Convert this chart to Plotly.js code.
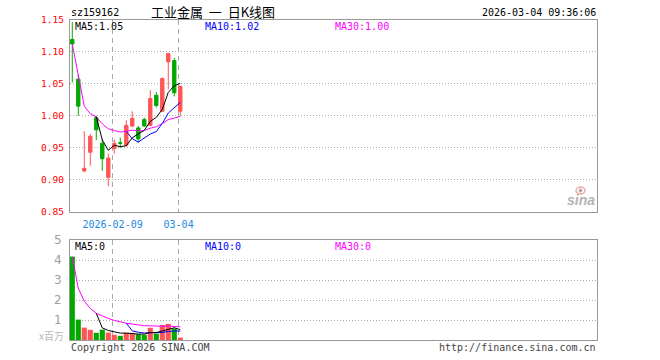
<!DOCTYPE html>
<html>
<head>
<meta charset="utf-8">
<script src="https://cdn.plot.ly/plotly-3.0.1.min.js"></script>
<style>html,body{margin:0;padding:0;background:#fff;}#chart{width:660px;height:360px;}</style>
</head>
<body>
<div id="chart"></div>
<script>
// ---- data ----
const dates = ["2026-01-29","2026-01-30","2026-02-02","2026-02-03","2026-02-04","2026-02-05","2026-02-06","2026-02-09","2026-02-10","2026-02-11","2026-02-12","2026-02-13","2026-02-24","2026-02-25","2026-02-26","2026-02-27","2026-03-02","2026-03-03","2026-03-04"];
const openP  = [1.119, 1.057, 0.914, 0.943, 0.997, 0.957, 0.904, 0.949, 0.958, 0.954, 0.984, 0.981, 0.994, 0.985, 1.032, 1.007, 1.084, 1.086, 1.007];
const highP  = [1.146, 1.064, 0.976, 0.972, 1.000, 0.964, 0.941, 0.963, 0.966, 0.993, 1.007, 0.984, 0.997, 1.040, 1.037, 1.060, 1.098, 1.090, 1.046];
const lowP   = [1.052, 1.000, 0.912, 0.922, 0.962, 0.914, 0.890, 0.941, 0.950, 0.952, 0.982, 0.958, 0.983, 0.984, 1.013, 1.006, 1.041, 1.030, 1.000];
const closeP = [1.112, 1.015, 0.918, 0.968, 0.978, 0.933, 0.934, 0.957, 0.957, 0.985, 0.996, 0.964, 0.984, 1.027, 1.016, 1.058, 1.097, 1.036, 1.046];
const volume = [4.17, 1.02, 0.62, 0.51, 0.36, 0.52, 0.37, 0.26, 0.21, 0.36, 0.36, 0.29, 0.26, 0.61, 0.32, 0.75, 0.81, 0.58, 0.12];
const dateTickDates = ["2026-02-09", "2026-03-04"];
const dateTickLabels = ["2026-02-09", "03-04"];
const priceTicks = [0.85, 0.90, 0.95, 1.00, 1.05, 1.10, 1.15];
const priceTickLabels = ["0.85", "0.90", "0.95", "1.00", "1.05", "1.10", "1.15"];
const volTicks = [1, 2, 3, 4, 5];
const volTickLabels = ["1", "2", "3", "4", "5"];
const volMaLabels = ["MA5:0", "MA10:0", "MA30:0"];

// ---- helpers ----
const idx = dates.map((d, i) => i);
function ma(arr, n, expanding) {
  return arr.map((v, i) => {
    if (i < n - 1 && !expanding) return null;
    const s = Math.max(0, i - n + 1);
    const sl = arr.slice(s, i + 1);
    return sl.reduce((a, b) => a + b, 0) / sl.length;
  });
}
const RED = '#ff5555', GREEN = '#00a800';
const MONO = 'DejaVu Sans Mono';
const ma5 = ma(closeP, 5), ma10 = ma(closeP, 10), ma30 = ma(closeP, 30, true);
const vma5 = ma(volume, 5), vma10 = ma(volume, 10), vma30 = ma(volume, 30, true);
const volColors = closeP.map((c, i) => c >= openP[i] ? RED : GREEN);
const last = a => a[a.length - 1];
const tickIdx = dateTickDates.map(d => dates.indexOf(d) - 0.28);

const W = 660, H = 360;
const px = x => x / W, py = y => 1 - y / H;

const traces = [
  {type: 'candlestick', x: idx, open: openP, high: highP, low: lowP, close: closeP,
   xaxis: 'x', yaxis: 'y', whiskerwidth: 0,
   increasing: {line: {color: RED, width: 1}, fillcolor: RED},
   decreasing: {line: {color: GREEN, width: 1}, fillcolor: GREEN},
   hoverinfo: 'skip', showlegend: false},
  {type: 'scatter', mode: 'lines', x: idx, y: ma30, line: {color: '#ff00ff', width: 1}, xaxis: 'x', yaxis: 'y', showlegend: false, hoverinfo: 'skip'},
  {type: 'scatter', mode: 'lines', x: idx, y: ma10, line: {color: '#0000ff', width: 1}, xaxis: 'x', yaxis: 'y', showlegend: false, hoverinfo: 'skip'},
  {type: 'scatter', mode: 'lines', x: idx, y: ma5, line: {color: '#000000', width: 1}, xaxis: 'x', yaxis: 'y', showlegend: false, hoverinfo: 'skip'},
  {type: 'bar', x: idx, y: volume, marker: {color: volColors, line: {width: 0}}, xaxis: 'x2', yaxis: 'y2', showlegend: false, hoverinfo: 'skip'},
  {type: 'scatter', mode: 'lines', x: idx, y: vma30, line: {color: '#ff00ff', width: 1}, xaxis: 'x2', yaxis: 'y2', showlegend: false, hoverinfo: 'skip'},
  {type: 'scatter', mode: 'lines', x: idx, y: vma10, line: {color: '#0000ff', width: 1}, xaxis: 'x2', yaxis: 'y2', showlegend: false, hoverinfo: 'skip'},
  {type: 'scatter', mode: 'lines', x: idx, y: vma5, line: {color: '#000000', width: 1}, xaxis: 'x2', yaxis: 'y2', showlegend: false, hoverinfo: 'skip'}
];

const xRange = [-0.38, 87.45];
const gridCol = '#aaaaaa', frameCol = '#999999';

const ann = (text, x, y, xanchor, color, size, family, extra) => Object.assign({
  text: text, x: px(x), y: py(y), xref: 'paper', yref: 'paper', xanchor: xanchor, yanchor: 'middle',
  showarrow: false, font: {family: family || MONO, size: size || 10, color: color || '#000'}, borderpad: 0
}, extra || {});

// price tick labels (red), placed on the price axis scale
const priceLabelAnns = priceTicks.map((v, i) => ({
  text: priceTickLabels[i], x: px(65), xref: 'paper', y: v, yref: 'y', xanchor: 'right', yanchor: 'middle',
  showarrow: false, borderpad: 0, font: {family: MONO, size: 9.5, color: '#ff0000'}
}));

const layout = {
  width: W, height: H, margin: {l: 0, r: 0, t: 0, b: 0},
  paper_bgcolor: '#fff', plot_bgcolor: '#fff', showlegend: false, bargap: 0.14, boxgap: 0.2,
  xaxis: {domain: [px(70), px(597)], range: xRange, anchor: 'y', rangeslider: {visible: false},
          tickmode: 'array', tickvals: tickIdx, ticktext: dateTickLabels, ticks: '', ticklabelstandoff: 3,
          tickfont: {family: MONO, size: 10, color: '#1e88e5'},
          showgrid: true, gridcolor: gridCol, gridwidth: 1, griddash: '5px,4px',
          showline: true, linecolor: frameCol, linewidth: 1, mirror: true, zeroline: false, fixedrange: true},
  yaxis: {domain: [py(212), py(19.5)], range: [0.8499, 1.1501], anchor: 'x',
          tickmode: 'array', tickvals: priceTicks, showticklabels: false, ticks: '',
          showgrid: true, gridcolor: gridCol, gridwidth: 1, griddash: '1px,2px',
          showline: true, linecolor: frameCol, linewidth: 1, mirror: true, zeroline: false, fixedrange: true},
  xaxis2: {domain: [px(70), px(597)], range: xRange, anchor: 'y2',
           tickmode: 'array', tickvals: tickIdx, showticklabels: false, ticks: '',
           showgrid: true, gridcolor: gridCol, gridwidth: 1, griddash: '5px,4px',
           showline: true, linecolor: frameCol, linewidth: 1, mirror: true, zeroline: false, fixedrange: true},
  yaxis2: {domain: [py(340), py(240)], range: [0, 5], anchor: 'x2',
           tickmode: 'array', tickvals: volTicks, ticktext: volTickLabels, ticks: '', ticklabelstandoff: 5,
           tickfont: {family: 'DejaVu Sans', size: 12, color: '#a0a0a0'},
           showgrid: true, gridcolor: gridCol, gridwidth: 1, griddash: '1px,2px',
           showline: true, linecolor: frameCol, linewidth: 1, mirror: true, zeroline: false, fixedrange: true},
  annotations: priceLabelAnns.concat([
    ann('sz159162', 70, 12.5, 'left', '#000', 10),
    ann('工业金属\u00a0\u00a0一\u00a0\u00a0日K线图', 213, 12, 'center', '#000', 13, 'Noto Sans CJK SC'),
    ann('2026-03-04 09:36:06', 597, 12.5, 'right', '#000', 10),
    ann('MA5:' + last(ma5).toFixed(2), 74, 27, 'left', '#000', 10),
    ann('MA10:' + last(ma10).toFixed(2), 204, 27, 'left', '#0000ff', 10),
    ann('MA30:' + last(ma30).toFixed(2), 334, 27, 'left', '#ff00ff', 10),
    ann(volMaLabels[0], 74, 246.5, 'left', '#000', 10),
    ann(volMaLabels[1], 204, 246.5, 'left', '#0000ff', 10),
    ann(volMaLabels[2], 334, 246.5, 'left', '#ff00ff', 10),
    ann('x百万', 65, 335, 'right', '#b8b8b8', 10, 'Noto Sans CJK SC'),
    ann('Copyright 2026 SINA.COM', 70, 347, 'left', '#444', 10),
    ann('http://finance.sina.com.cn', 597, 347, 'right', '#444', 10),
    ann('sina', 596, 199.5, 'right', '#b4b4b4', 14, 'Liberation Sans', {font: {family: 'Liberation Sans', size: 14, color: '#b4b4b4', style: 'italic', weight: 'bold'}})
  ]),
  shapes: [
    {type: 'circle', xref: 'paper', yref: 'paper', x0: px(576), x1: px(585), y0: py(194), y1: py(187),
     line: {color: '#f4a6a6', width: 1.5}, fillcolor: 'rgba(0,0,0,0)'},
    {type: 'circle', xref: 'paper', yref: 'paper', x0: px(578.5), x1: px(582.5), y0: py(192.5), y1: py(188.5),
     line: {width: 0}, fillcolor: '#b0b0b0'}
  ]
};

Plotly.newPlot('chart', traces, layout, {staticPlot: true, displayModeBar: false});
</script>
</body>
</html>
